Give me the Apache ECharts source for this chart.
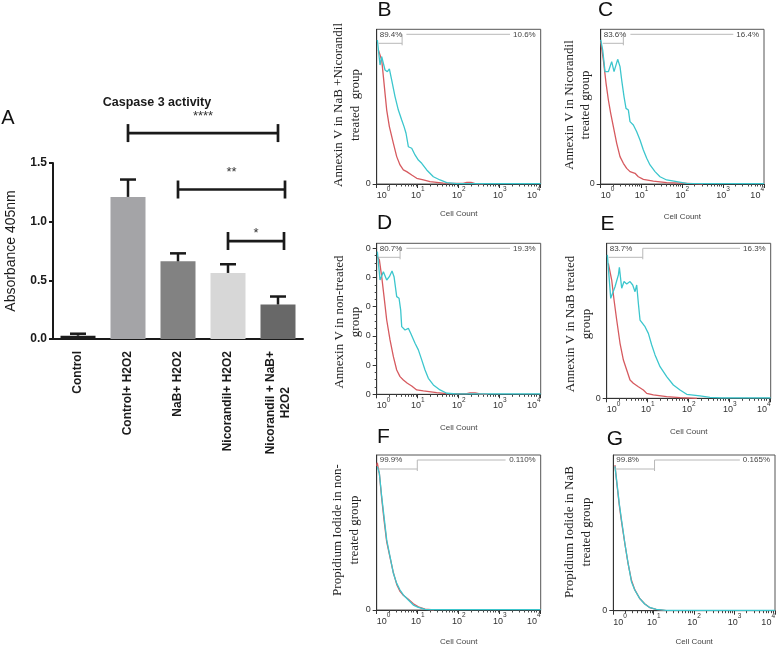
<!DOCTYPE html>
<html>
<head>
<meta charset="utf-8">
<script src="https://cdn.jsdelivr.net/npm/echarts@6.0.0/dist/echarts.min.js"></script>
<style>
html,body{margin:0;padding:0;background:#ffffff;}
#chart{width:778px;height:647px;}
</style>
</head>
<body>
<div id="chart"></div>
<script>
// ---------- Panel A: Caspase 3 activity ----------
const caspaseCategories = ['Control', 'Control+ H2O2', 'NaB+ H2O2', 'Nicorandil+ H2O2', 'Nicorandil + NaB+\nH2O2'];
const caspaseMean = [0.028, 1.211, 0.662, 0.563, 0.294];
const caspaseUpper = [0.045, 1.359, 0.730, 0.637, 0.362];
const sigFrom = [1, 2, 3];
const sigTo = [4, 4.14, 4.12];
const sigLevel = [1.755, 1.274, 0.835];
const sigStars = ['****', '**', '*'];

// ---------- Panels B-G: flow histograms (x = log10 of fluorescence, y = % of panel max) ----------
const decadeTicks = [0, 1, 2, 3, 4];
const panelB_red = [[0.04,86.6],[0.065,87.7],[0.122,80.2],[0.163,69.4],[0.203,58.6],[0.244,47.8],[0.309,37.1],[0.407,26.3],[0.488,17.7],[0.569,12.3],[0.65,9.1],[0.732,8.0],[0.854,5.8],[0.976,3.7],[1.138,2.6],[1.301,1.5],[1.626,0.6],[2.11,0.4],[2.2,1.0],[2.3,1.0],[2.4,0.2],[2.6,0]];
const panelB_cyan = [[0.016,93.1],[0.081,76.9],[0.122,82.3],[0.203,73.7],[0.26,72.6],[0.309,74.4],[0.366,67.2],[0.447,56.5],[0.528,47.8],[0.61,41.4],[0.667,37.1],[0.715,32.8],[0.772,24.1],[0.854,23.1],[0.935,18.8],[1.016,15.5],[1.098,13.4],[1.22,9.1],[1.382,4.7],[1.545,2.6],[1.707,0.9],[1.951,0.3],[4,0.3]];
const panelC_red = [[0,92],[0.065,80.2],[0.131,65.1],[0.188,54.3],[0.245,45.7],[0.31,37.1],[0.392,26.3],[0.473,17.7],[0.555,13.4],[0.637,10.1],[0.718,8.0],[0.841,6.9],[0.922,4.7],[1.045,3.0],[1.29,1.9],[1.616,0.9],[2.27,0.2],[2.5,0]];
const panelC_cyan = [[0,93.1],[0.049,86.6],[0.106,72.6],[0.188,72.6],[0.269,79.1],[0.327,72.6],[0.416,80.6],[0.473,75.9],[0.514,67.2],[0.571,56.5],[0.62,48.9],[0.678,47.8],[0.718,40.3],[0.8,38.1],[0.882,33.8],[0.963,28.4],[1.045,22.0],[1.127,16.6],[1.208,12.3],[1.331,8.0],[1.453,4.7],[1.616,2.6],[1.861,1.5],[2.106,0.4],[4,0.3]];
const panelD_red = [[0.016,91.2],[0.065,89.0],[0.122,77.9],[0.179,64.7],[0.244,49.2],[0.325,36.0],[0.407,24.9],[0.488,16.1],[0.569,11.7],[0.65,9.5],[0.748,7.3],[0.854,5.5],[0.976,2.9],[1.138,2.2],[1.463,1.1],[1.707,0.4],[2.2,0.4],[2.276,0.9],[2.4,0.9],[2.52,0.2],[2.7,0]];
const panelD_cyan = [[0.016,94.5],[0.081,75.7],[0.163,81.2],[0.244,75.7],[0.309,77.9],[0.374,81.7],[0.423,77.9],[0.488,64.7],[0.545,63.6],[0.585,55.8],[0.61,44.8],[0.691,42.6],[0.772,43.7],[0.829,40.4],[0.935,33.8],[1.016,29.4],[1.098,22.8],[1.179,16.1],[1.26,10.6],[1.382,6.2],[1.545,2.9],[1.707,0.7],[1.951,0.3],[4,0.3]];
const panelE_red = [[0.04,87.1],[0.065,86.0],[0.122,76.3],[0.179,63.4],[0.244,50.5],[0.325,35.5],[0.407,24.7],[0.488,18.3],[0.569,11.8],[0.65,9.7],[0.772,7.5],[0.894,5.4],[0.976,3.2],[1.138,2.2],[1.463,1.1],[1.789,0.4],[2.2,0]];
const panelE_cyan = [[0.016,92.5],[0.098,64.5],[0.203,72.0],[0.285,79.6],[0.309,84.5],[0.366,71.0],[0.423,75.3],[0.488,73.8],[0.569,75.3],[0.634,73.1],[0.691,68.8],[0.732,73.1],[0.772,61.3],[0.813,50.5],[0.935,46.2],[1.016,41.9],[1.098,34.4],[1.179,28.0],[1.301,20.4],[1.463,14.0],[1.626,8.6],[1.789,5.4],[1.951,2.6],[2.276,1.5],[2.52,0.6],[2.8,0.3],[4,0.3]];
const panelF_red = [[0.0,93],[0.016,95],[0.04,91],[0.065,88],[0.122,72],[0.179,58],[0.244,44],[0.325,34],[0.407,24],[0.488,16.5],[0.569,12],[0.65,9.5],[0.772,7.0],[0.894,4.0],[1.016,2.0],[1.179,0.6],[1.4,0]];
const panelF_cyan = [[0.016,92.5],[0.065,88.2],[0.122,73.1],[0.179,60.2],[0.244,45.2],[0.325,34.4],[0.407,23.7],[0.488,17.2],[0.569,12.9],[0.65,9.7],[0.772,6.5],[0.894,3.2],[1.016,1.7],[1.179,0.4],[1.301,0.2],[4,0.2]];
const panelG_red = [[0.041,93.5],[0.082,83],[0.147,68],[0.204,57],[0.286,43],[0.367,30],[0.449,19.5],[0.531,13.5],[0.653,7.8],[0.776,4.5],[0.898,2.0],[1.061,0.8],[1.306,0]];
const panelG_cyan = [[0.041,92.7],[0.082,83.9],[0.147,68.9],[0.204,58.2],[0.286,43.3],[0.367,30.4],[0.449,18.6],[0.531,13.3],[0.653,7.9],[0.776,4.3],[0.898,2.1],[1.061,0.9],[1.306,0.2],[4,0.2]];
const gateBoundary = [0.62, 0.555, 0.57, 0.88, 0.99, 1.02];
const gateLeftPct = ['89.4%', '83.6%', '80.7%', '83.7%', '99.9%', '99.8%'];
const gateRightPct = ['10.6%', '16.4%', '19.3%', '16.3%', '0.110%', '0.165%'];
const panelLetters = ['B', 'C', 'D', 'E', 'F', 'G'];
const panelTitles = ['Annexin V in NaB +Nicorandil\ntreated  group', 'Annexin V in Nicorandil\ntreated group', 'Annexin V in non-treated\ngroup', 'Annexin V in NaB treated\ngroup', 'Propidium Iodide in non-\ntreated group', 'Propidium Iodide in NaB\ntreated group'];
const panelDYTicks = [0, 19.33, 38.67, 58, 77.33, 96.67];

// ---------- layout / style ----------
const reds = [panelB_red, panelC_red, panelD_red, panelE_red, panelF_red, panelG_red];
const cyans = [panelB_cyan, panelC_cyan, panelD_cyan, panelE_cyan, panelF_cyan, panelG_cyan];
const barColors = ['#1c1c1c', '#a4a4a7', '#828282', '#d7d7d7', '#686868'];
const sigLabelGap = [17, 17, 8];
const FONT = '"Liberation Sans", Arial, sans-serif';
const SERIF = '"Liberation Serif", "Times New Roman", serif';
const panelRects = [[376.7,29.3,164,154.7],[600.7,29.3,163.3,154.7],[376.7,243.3,164,151],[606.7,243.3,164,155],[376.7,455,164,155],[613.3,455,163.3,155.7]];
const panelNameGap = [26, 28.5, 29, 29, 27.5, 27];
const titleCenters = [[347,105],[577.5,105],[347.5,322],[578.5,324],[346,530],[578,532]];
const letterPos = [[384.5,10],[605.5,10.5],[384.5,223.5],[607.5,224.5],[383.5,437.5],[615,439.5]];

const minorDecadeTicks = [];
for (let d = 0; d < 4; d++) for (let k = 2; k <= 9; k++) minorDecadeTicks.push(d + Math.log10(k));
const dMinorTicks = [];
for (let j = 0; j < 5; j++) for (let q = 1; q < 4; q++) dMinorTicks.push(panelDYTicks[j] + (panelDYTicks[j+1]-panelDYTicks[j]) * q / 4);

function textW(t, fs) {
  let w = 0;
  for (const c of t) w += (c === '.' ? 0.278 : c === '%' ? 0.889 : 0.556) * fs;
  return w;
}

const chart = echarts.init(document.getElementById('chart'), null, {renderer: 'canvas'});

const grid = [{left: 53, top: 163, width: 250, height: 176, show: false}];
const xAxis = [
  {gridIndex: 0, type: 'category', position: 'bottom', data: caspaseCategories,
   axisLine: {onZero: false, lineStyle: {color: '#1a1a1a', width: 2}},
   axisTick: {alignWithLabel: true, length: 4, lineStyle: {width: 2, color: '#1a1a1a'}},
   axisLabel: {interval: 0, rotate: 90, margin: 12,
     formatter: v => v.split('\n').map(s => '{c|' + s + '}').join('\n'),
     rich: {c: {align: 'center', fontFamily: FONT, fontWeight: 'bold', fontSize: 12, color: '#1a1a1a', lineHeight: 15}}}},
  {gridIndex: 0, type: 'value', position: 'bottom', min: -0.5, max: 4.5, show: false}
];
const yAxis = [
  {gridIndex: 0, type: 'value', position: 'left', min: 0, max: 1.5, interval: 0.5,
   name: 'Absorbance 405nm', nameLocation: 'middle', nameGap: 35,
   nameTextStyle: {fontFamily: FONT, fontSize: 14, color: '#1a1a1a'},
   axisLine: {show: true, onZero: false, lineStyle: {color: '#1a1a1a', width: 2}},
   axisTick: {show: true, length: 4, lineStyle: {width: 2, color: '#1a1a1a'}},
   axisLabel: {formatter: v => v.toFixed(1), fontFamily: FONT, fontWeight: 'bold', fontSize: 12, color: '#1a1a1a', margin: 6},
   splitLine: {show: false}}
];
const series = [
  {type: 'bar', xAxisIndex: 0, yAxisIndex: 0, barWidth: 35, z: 2,
   data: caspaseMean.map((v, i) => ({value: v, itemStyle: {color: barColors[i]}}))},
  {type: 'custom', xAxisIndex: 0, yAxisIndex: 0, z: 3,
   data: caspaseMean.map((m, i) => [i, m, caspaseUpper[i]]),
   renderItem: (p, api) => {
     const a = api.coord([api.value(0), api.value(1)]);
     const b = api.coord([api.value(0), api.value(2)]);
     const st = {stroke: '#1a1a1a', lineWidth: 2.5};
     return {type: 'group', children: [
       {type: 'line', shape: {x1: a[0], y1: a[1], x2: b[0], y2: b[1]}, style: st},
       {type: 'line', shape: {x1: b[0] - 8, y1: b[1], x2: b[0] + 8, y2: b[1]}, style: st}
     ]};
   }},
  {type: 'custom', xAxisIndex: 1, yAxisIndex: 0, z: 4, clip: false,
   data: sigFrom.map((f, i) => [f, sigTo[i], sigLevel[i], i]),
   renderItem: (p, api) => {
     const a = api.coord([api.value(0), api.value(2)]);
     const b = api.coord([api.value(1), api.value(2)]);
     const k = api.value(3);
     const st = {stroke: '#1a1a1a', lineWidth: 2.7};
     return {type: 'group', children: [
       {type: 'line', shape: {x1: a[0], y1: a[1], x2: b[0], y2: b[1]}, style: st},
       {type: 'line', shape: {x1: a[0], y1: a[1] - 9, x2: a[0], y2: a[1] + 9}, style: st},
       {type: 'line', shape: {x1: b[0], y1: b[1] - 9, x2: b[0], y2: b[1] + 9}, style: st},
       {type: 'text', style: {text: sigStars[k], x: (a[0] + b[0]) / 2, y: a[1] - sigLabelGap[k], fontSize: 13, fontFamily: FONT, fill: '#333', align: 'center', verticalAlign: 'middle'}}
     ]};
   }}
];

panelRects.forEach((r, i) => {
  const gi = grid.length;
  grid.push({left: r[0], top: r[1], width: r[2], height: r[3], show: true, borderColor: '#555', borderWidth: 1, backgroundColor: 'transparent'});
  const xi = xAxis.length;
  xAxis.push({gridIndex: gi, type: 'value', position: 'bottom', min: 0, max: 4, interval: 1,
    name: 'Cell Count', nameLocation: 'middle', nameGap: panelNameGap[i],
    nameTextStyle: {fontFamily: FONT, fontSize: 8, color: '#444'},
    axisLine: {show: true, onZero: false, lineStyle: {color: '#333', width: 1}},
    axisTick: {show: true, length: 4, lineStyle: {color: '#333'}},
    axisLabel: {margin: 2, alignMinLabel: 'left', alignMaxLabel: 'right',
      formatter: v => '{b|10}{s|' + v + '}',
      rich: {b: {fontFamily: FONT, fontSize: 9, color: '#333', lineHeight: 14, verticalAlign: 'bottom'},
             s: {fontFamily: FONT, fontSize: 6.5, color: '#333', lineHeight: 8, verticalAlign: 'top'}}},
    splitLine: {show: false}});
  xAxis.push({gridIndex: gi, type: 'value', position: 'bottom', min: 0, max: 4,
    axisLine: {show: false}, axisLabel: {show: false}, splitLine: {show: false},
    axisTick: {show: true, length: 2.5, customValues: minorDecadeTicks, lineStyle: {color: '#444'}}});
  const yi = yAxis.length;
  const isD = i === 2;
  yAxis.push({gridIndex: gi, type: 'value', position: 'left', min: 0, max: 100,
    axisLine: {show: true, onZero: false, lineStyle: {color: '#333', width: 1}},
    axisTick: {show: true, length: 4, customValues: isD ? panelDYTicks : [0], lineStyle: {color: '#333'}},
    axisLabel: {customValues: isD ? panelDYTicks : [0], formatter: () => '0', fontFamily: FONT, fontSize: 9, color: '#333', margin: 6},
    splitLine: {show: false}});
  if (isD) {
    yAxis.push({gridIndex: gi, type: 'value', position: 'left', min: 0, max: 100,
      axisLine: {show: false}, axisLabel: {show: false}, splitLine: {show: false},
      axisTick: {show: true, length: 2, customValues: dMinorTicks, lineStyle: {color: '#444'}}});
  }
  series.push({type: 'line', xAxisIndex: xi, yAxisIndex: yi, data: reds[i], symbol: 'none', silent: true, z: 3,
    lineStyle: {color: '#d65a5f', width: 1.3}});
  series.push({type: 'line', xAxisIndex: xi, yAxisIndex: yi, data: cyans[i], symbol: 'none', silent: true, z: 4,
    lineStyle: {color: '#3cc6cd', width: 1.3}});
  series.push({type: 'custom', xAxisIndex: xi, yAxisIndex: yi, z: 5, clip: false, silent: true,
    data: [[gateBoundary[i], 0]],
    renderItem: (params, api) => {
      const cs = params.coordSys;
      const bx = api.coord([api.value(0), 0])[0];
      const L = cs.x, T = cs.y, R = cs.x + cs.width;
      const fs = 8;
      const lt = gateLeftPct[i], rt = gateRightPct[i];
      const lw = textW(lt, fs), rw = textW(rt, fs);
      const gs = {stroke: '#b8b8b8', lineWidth: 1};
      return {type: 'group', children: [
        {type: 'line', shape: {x1: Math.max(bx, L + 3 + lw + 4), y1: T + 5, x2: R - 5 - rw - 3, y2: T + 5}, style: gs},
        {type: 'line', shape: {x1: L + 2, y1: T + 14, x2: bx, y2: T + 14}, style: gs},
        {type: 'line', shape: {x1: bx, y1: T + 5, x2: bx, y2: T + 16}, style: gs},
        {type: 'text', style: {text: lt, x: L + 3, y: T + 5, fontSize: fs, fontFamily: FONT, fill: '#444', align: 'left', verticalAlign: 'middle'}},
        {type: 'text', style: {text: rt, x: R - 5, y: T + 5, fontSize: fs, fontFamily: FONT, fill: '#444', align: 'right', verticalAlign: 'middle'}}
      ]};
    }});
});

const graphic = [
  {type: 'text', x: 157, y: 103, style: {text: 'Caspase 3 activity', fontFamily: FONT, fontWeight: 'bold', fontSize: 12.5, fill: '#1a1a1a', align: 'center', verticalAlign: 'middle'}},
  {type: 'text', x: 8, y: 118.5, style: {text: 'A', fontFamily: FONT, fontSize: 20, fill: '#111', align: 'center', verticalAlign: 'middle'}}
];
panelLetters.forEach((l, i) => {
  graphic.push({type: 'text', x: letterPos[i][0], y: letterPos[i][1], style: {text: l, fontFamily: FONT, fontSize: 21, fill: '#111', align: 'center', verticalAlign: 'middle'}});
  graphic.push({type: 'text', x: titleCenters[i][0], y: titleCenters[i][1], rotation: Math.PI / 2,
    style: {text: panelTitles[i], fontFamily: SERIF, fontSize: 13, lineHeight: 16.5, fill: '#222', align: 'center', verticalAlign: 'middle'}});
});

chart.setOption({
  animation: false,
  backgroundColor: '#ffffff',
  grid: grid,
  xAxis: xAxis,
  yAxis: yAxis,
  series: series,
  graphic: graphic
});
</script>
</body>
</html>
